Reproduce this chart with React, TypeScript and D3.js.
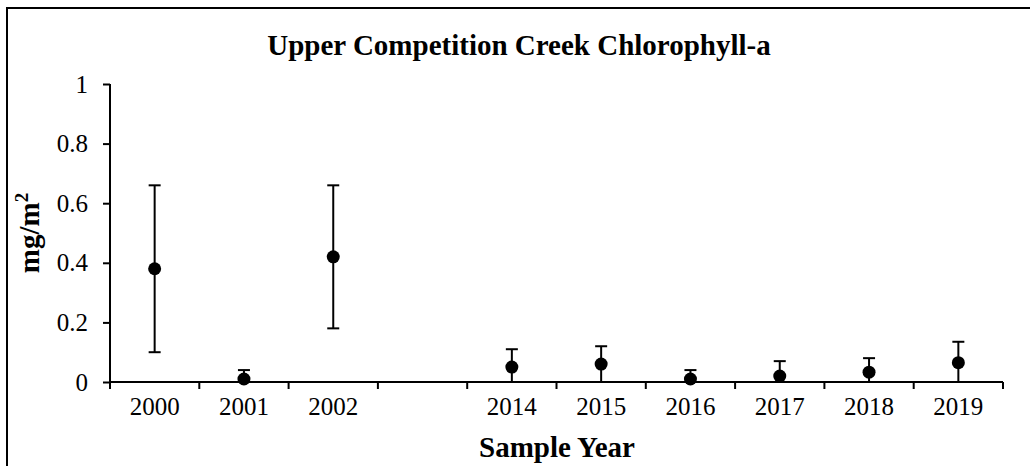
import React, { useRef, useEffect } from 'react';
import * as d3 from 'd3';

// Sample years (blank slot marks the 2003-2013 gap on the axis)
const categories = ['2000', '2001', '2002', '', '2014', '2015', '2016', '2017', '2018', '2019'];
// Mean chlorophyll-a (mg/m2) and error bar half-widths
const means: (number | null)[] = [0.38, 0.01, 0.42, null, 0.05, 0.06, 0.01, 0.02, 0.033, 0.065];
const errors: (number | null)[] = [0.28, 0.03, 0.24, null, 0.06, 0.06, 0.03, 0.05, 0.047, 0.07];
const yTicks = [0, 0.2, 0.4, 0.6, 0.8, 1];

const FONT = '"Liberation Serif", "Times New Roman", serif';

const App = () => {
  const svgRef = useRef<SVGSVGElement>(null);

  useEffect(() => {
    const width = 1030;
    const height = 466;
    const plot = { left: 110, right: 1003, top: 84, bottom: 382 };

    const svg = d3.select(svgRef.current);
    svg.selectAll('*').remove();
    svg.attr('width', width).attr('height', height);

    svg.append('rect')
      .attr('width', width).attr('height', height)
      .attr('fill', '#fff');

    // outer chart frame (runs off the right and bottom edge)
    svg.append('rect')
      .attr('x', 7).attr('y', 8)
      .attr('width', 1040).attr('height', 480)
      .attr('fill', 'none')
      .attr('stroke', '#000')
      .attr('stroke-width', 2);

    const x = d3.scaleBand<string>()
      .domain(categories)
      .range([plot.left, plot.right])
      .padding(0);

    const y = d3.scaleLinear()
      .domain([0, 1])
      .range([plot.bottom, plot.top]);

    // title
    svg.append('text')
      .attr('x', 519)
      .attr('y', 55)
      .attr('text-anchor', 'middle')
      .attr('font-family', FONT)
      .attr('font-weight', 'bold')
      .attr('font-size', 29)
      .text('Upper Competition Creek Chlorophyll-a');

    // Y axis
    const yAxis = svg.append('g')
      .attr('transform', `translate(${plot.left},0)`)
      .call(d3.axisLeft(y)
        .tickValues(yTicks)
        .tickSize(7)
        .tickPadding(15)
        .tickSizeOuter(0)
        .tickFormat(d => String(+(+d).toFixed(1))));
    yAxis.select('.domain').remove();
    yAxis.selectAll('line').attr('stroke', '#000').attr('stroke-width', 2);
    yAxis.selectAll('text')
      .attr('font-family', FONT)
      .attr('font-size', 25)
      .attr('fill', '#000');
    svg.append('line')
      .attr('x1', plot.left).attr('x2', plot.left)
      .attr('y1', plot.top).attr('y2', plot.bottom + 7)
      .attr('stroke', '#000').attr('stroke-width', 2);

    // X axis with ticks between categories
    const xAxis = svg.append('g');
    xAxis.append('line')
      .attr('x1', plot.left).attr('x2', plot.right)
      .attr('y1', plot.bottom).attr('y2', plot.bottom)
      .attr('stroke', '#000').attr('stroke-width', 2);
    const bounds = categories.map(c => x(c)!).concat([plot.right]);
    xAxis.selectAll('line.tick')
      .data(bounds)
      .join('line')
      .attr('class', 'tick')
      .attr('x1', d => d).attr('x2', d => d)
      .attr('y1', plot.bottom).attr('y2', plot.bottom + 7)
      .attr('stroke', '#000').attr('stroke-width', 2);
    xAxis.selectAll('text')
      .data(categories)
      .join('text')
      .attr('x', d => x(d)! + x.bandwidth() / 2)
      .attr('y', 415)
      .attr('text-anchor', 'middle')
      .attr('font-family', FONT)
      .attr('font-size', 25)
      .text(d => d);

    // axis titles
    svg.append('text')
      .attr('x', 557)
      .attr('y', 457)
      .attr('text-anchor', 'middle')
      .attr('font-family', FONT)
      .attr('font-weight', 'bold')
      .attr('font-size', 29)
      .text('Sample Year');

    const yTitle = svg.append('text')
      .attr('transform', `translate(39,${(plot.top + plot.bottom) / 2}) rotate(-90)`)
      .attr('text-anchor', 'middle')
      .attr('font-family', FONT)
      .attr('font-weight', 'bold')
      .attr('font-size', 29);
    yTitle.append('tspan').text('mg/m');
    yTitle.append('tspan')
      .attr('font-size', 19)
      .attr('dy', -11)
      .text('2');

    // clip error bars to the plot area
    svg.append('clipPath')
      .attr('id', 'plot-clip')
      .append('rect')
      .attr('x', plot.left).attr('y', plot.top - 10)
      .attr('width', plot.right - plot.left)
      .attr('height', plot.bottom - plot.top + 9);

    const points = categories
      .map((c, i) => ({ c, m: means[i], e: errors[i] }))
      .filter(d => d.m !== null && d.e !== null) as { c: string; m: number; e: number }[];

    const cx = (c: string) => x(c)! + x.bandwidth() / 2;
    const bars = svg.append('g').attr('clip-path', 'url(#plot-clip)');
    const capHalf = 6;

    bars.selectAll('line.stem')
      .data(points)
      .join('line')
      .attr('class', 'stem')
      .attr('x1', d => cx(d.c)).attr('x2', d => cx(d.c))
      .attr('y1', d => y(d.m + d.e)).attr('y2', d => y(d.m - d.e))
      .attr('stroke', '#000').attr('stroke-width', 2);
    bars.selectAll('line.cap-top')
      .data(points)
      .join('line')
      .attr('class', 'cap-top')
      .attr('x1', d => cx(d.c) - capHalf).attr('x2', d => cx(d.c) + capHalf)
      .attr('y1', d => y(d.m + d.e)).attr('y2', d => y(d.m + d.e))
      .attr('stroke', '#000').attr('stroke-width', 2);
    bars.selectAll('line.cap-bottom')
      .data(points)
      .join('line')
      .attr('class', 'cap-bottom')
      .attr('x1', d => cx(d.c) - capHalf).attr('x2', d => cx(d.c) + capHalf)
      .attr('y1', d => y(d.m - d.e)).attr('y2', d => y(d.m - d.e))
      .attr('stroke', '#000').attr('stroke-width', 2);

    // mean markers
    svg.append('g')
      .selectAll('circle')
      .data(points)
      .join('circle')
      .attr('cx', d => cx(d.c))
      .attr('cy', d => y(d.m))
      .attr('r', 6.5)
      .attr('fill', '#000');
  }, []);

  return (
    <svg ref={svgRef} style={{ position: 'absolute', left: 0, top: 0, display: 'block' }}></svg>
  );
};

export default App;
